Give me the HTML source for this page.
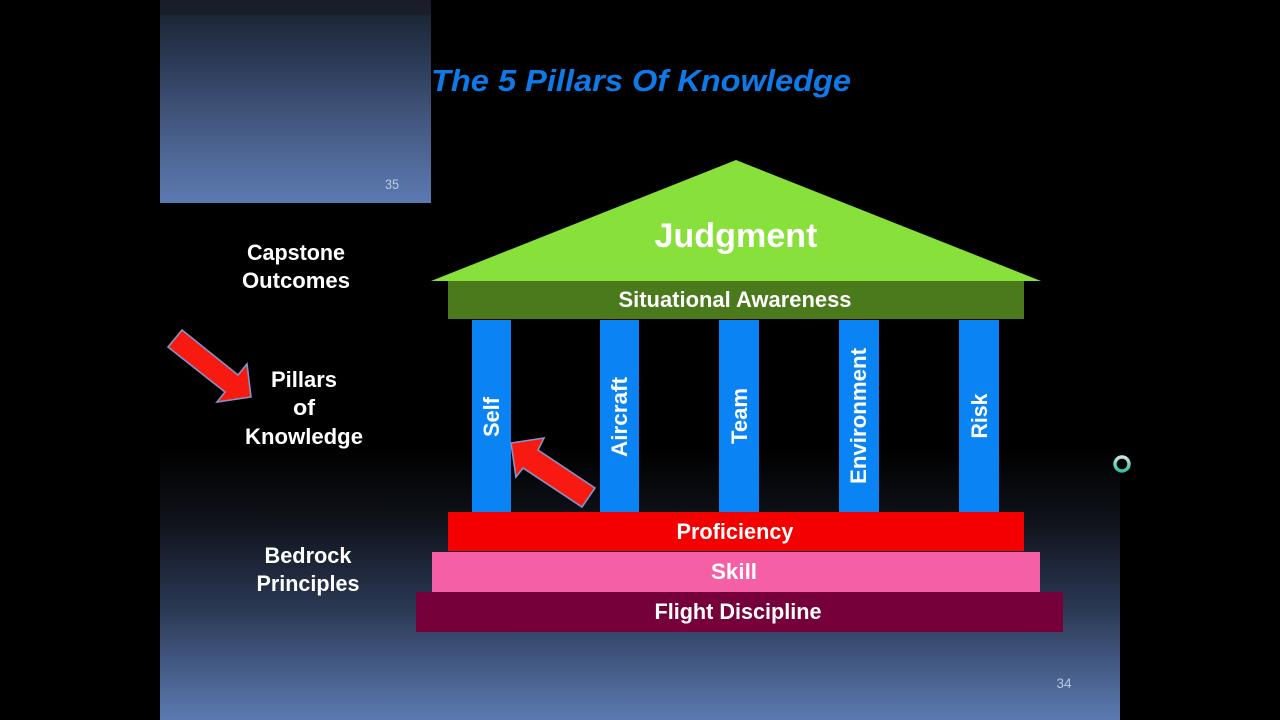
<!DOCTYPE html>
<html><head><meta charset="utf-8"><style>
html,body{margin:0;padding:0;background:#000;width:1280px;height:720px;overflow:hidden}
svg{display:block}
text{font-family:"Liberation Sans",sans-serif;fill:#fff;text-anchor:middle}
.b{font-weight:bold;font-size:22px}
</style></head><body>
<svg width="1280" height="720" viewBox="0 0 1280 720" xmlns="http://www.w3.org/2000/svg">
<defs>
<linearGradient id="g1" x1="0" y1="0" x2="0" y2="1">
<stop offset="0" stop-color="#000"/><stop offset="0.62" stop-color="#000"/><stop offset="0.72" stop-color="#0e1119"/><stop offset="0.85" stop-color="#2c3a56"/><stop offset="1" stop-color="#5c7ab2"/></linearGradient>
<linearGradient id="g2" x1="0" y1="0" x2="0" y2="1">
<stop offset="0" stop-color="#191c28"/><stop offset="0.07" stop-color="#1a1e2b"/><stop offset="0.075" stop-color="#1c2636"/><stop offset="0.3" stop-color="#2b3a56"/><stop offset="0.6" stop-color="#435880"/><stop offset="1" stop-color="#5c7ab2"/></linearGradient>
<linearGradient id="r" x1="0" y1="0" x2="0" y2="1">
<stop offset="0" stop-color="#c8e4e0"/><stop offset="1" stop-color="#30c0a0"/></linearGradient>
</defs>
<rect width="1280" height="720" fill="#000"/>
<rect x="160" y="0" width="960" height="720" fill="url(#g1)"/>
<rect x="160" y="0" width="271" height="203" fill="url(#g2)"/>
<text x="392" y="189" font-size="14" textLength="14" lengthAdjust="spacingAndGlyphs" style="fill:#b9c8e6">35</text>
<text x="1064" y="688" font-size="14" textLength="15" lengthAdjust="spacingAndGlyphs" style="fill:#b9c8e6">34</text>
<text x="641" y="91" font-size="31" font-weight="bold" font-style="italic" textLength="420" lengthAdjust="spacingAndGlyphs" style="fill:#0c7ae8">The 5 Pillars Of Knowledge</text>
<polygon points="736,160 1041,281 431,281" fill="#88e03a"/>
<rect x="448" y="281" width="576" height="38" fill="#4a7a1c"/>
<g fill="#0a84f5">
<rect x="472" y="320" width="39" height="192"/>
<rect x="600" y="320" width="39" height="192"/>
<rect x="719" y="320" width="40" height="192"/>
<rect x="839" y="320" width="40" height="192"/>
<rect x="959" y="320" width="40" height="192"/>
</g>
<rect x="448" y="512" width="576" height="39" fill="#f50000"/>
<rect x="432" y="552" width="608" height="40" fill="#f55fa5"/>
<rect x="416" y="592" width="647" height="40" fill="#76003a"/>
<text x="736" y="247" font-size="34" font-weight="bold" textLength="163" lengthAdjust="spacingAndGlyphs">Judgment</text>
<text class="b" x="735" y="307" textLength="233" lengthAdjust="spacingAndGlyphs">Situational Awareness</text>
<text class="b" x="735" y="539" textLength="117" lengthAdjust="spacingAndGlyphs">Proficiency</text>
<text class="b" x="734" y="579" textLength="46" lengthAdjust="spacingAndGlyphs">Skill</text>
<text class="b" x="738" y="619" textLength="167" lengthAdjust="spacingAndGlyphs">Flight Discipline</text>
<text class="b" transform="translate(499,417) rotate(-90)" textLength="40" lengthAdjust="spacingAndGlyphs">Self</text>
<text class="b" transform="translate(627,417) rotate(-90)" textLength="80" lengthAdjust="spacingAndGlyphs">Aircraft</text>
<text class="b" transform="translate(747,416) rotate(-90)" textLength="56" lengthAdjust="spacingAndGlyphs">Team</text>
<text class="b" transform="translate(866,416) rotate(-90)" textLength="136" lengthAdjust="spacingAndGlyphs">Environment</text>
<text class="b" transform="translate(987,416) rotate(-90)" textLength="45" lengthAdjust="spacingAndGlyphs">Risk</text>
<text class="b" x="296" y="260" textLength="98" lengthAdjust="spacingAndGlyphs">Capstone</text>
<text class="b" x="296" y="288" textLength="108" lengthAdjust="spacingAndGlyphs">Outcomes</text>
<text class="b" x="304" y="387" textLength="66" lengthAdjust="spacingAndGlyphs">Pillars</text>
<text class="b" x="304" y="415" textLength="22" lengthAdjust="spacingAndGlyphs">of</text>
<text class="b" x="304" y="444" textLength="118" lengthAdjust="spacingAndGlyphs">Knowledge</text>
<text class="b" x="308" y="563" textLength="87" lengthAdjust="spacingAndGlyphs">Bedrock</text>
<text class="b" x="308" y="591" textLength="103" lengthAdjust="spacingAndGlyphs">Principles</text>
<polygon points="182,330 238,375 247,364 251,397 217,402 225,392 168,347" fill="#f81a10" stroke="#8494c8" stroke-width="1.6"/>
<polygon points="595,488 538,450 544,438 511,443 516,477 523,468 582,507" fill="#f81a10" stroke="#8494c8" stroke-width="1.6"/>
<circle cx="1122" cy="464" r="7" fill="none" stroke="url(#r)" stroke-width="3.4"/>
</svg>
</body></html>
